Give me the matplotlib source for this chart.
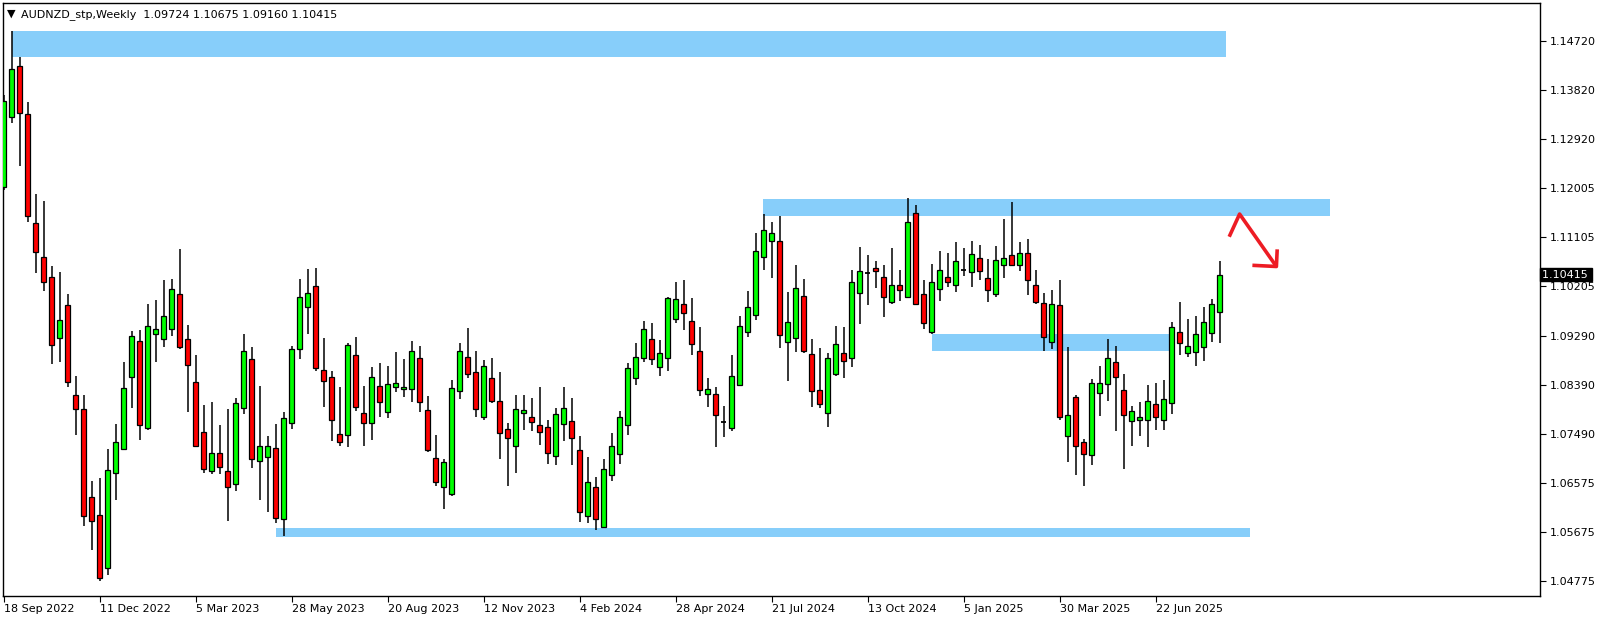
import matplotlib
matplotlib.use("Agg")
import matplotlib.pyplot as plt
import matplotlib.transforms as mtransforms
from matplotlib.patches import Rectangle

symbol = "AUDNZD_stp,Weekly"

# weekly AUDNZD candles (oldest first)
opens = [1.1203, 1.1332, 1.1426, 1.1337, 1.1136, 1.1074, 1.1037, 1.0925, 1.0986, 1.0820,
         1.0794, 1.0632, 1.0599, 1.0501, 1.0676, 1.0720, 1.0853, 1.0919, 1.0759, 1.0932,
         1.0923, 1.0941, 1.1006, 1.0923, 1.0844, 1.0752, 1.0681, 1.0713, 1.0681, 1.0656,
         1.0796, 1.0886, 1.0698, 1.0706, 1.0722, 1.0591, 1.0768, 1.0904, 1.0983, 1.1020,
         1.0867, 1.0854, 1.0748, 1.0746, 1.0893, 1.0787, 1.0768, 1.0836, 1.0789, 1.0835,
         1.0831, 1.0831, 1.0888, 1.0792, 1.0705, 1.0650, 1.0637, 1.0827, 1.0891, 1.0862,
         1.0780, 1.0852, 1.0810, 1.0757, 1.0726, 1.0787, 1.0780, 1.0764, 1.0761, 1.0707,
         1.0766, 1.0773, 1.0718, 1.0597, 1.0650, 1.0578, 1.0672, 1.0712, 1.0764, 1.0851,
         1.0888, 1.0923, 1.0871, 1.0888, 1.0960, 1.0987, 1.0956, 1.0902, 1.0822, 1.0822,
         1.0771, 1.0759, 1.0838, 1.0936, 1.0968, 1.1075, 1.1103, 1.1103, 1.0918, 1.0925,
         1.1002, 1.0895, 1.0829, 1.0787, 1.0858, 1.0897, 1.0889, 1.1008, 1.1044, 1.1054,
         1.1038, 1.0991, 1.1022, 1.1000, 1.1156, 1.1006, 1.0937, 1.1015, 1.1038, 1.1022,
         1.1051, 1.1046, 1.1072, 1.1035, 1.1006, 1.1059, 1.1077, 1.1059, 1.1081, 1.1022,
         1.0989, 1.0918, 1.0985, 1.0744, 1.0817, 1.0733, 1.0710, 1.0823, 1.0840, 1.0880,
         1.0829, 1.0773, 1.0775, 1.0775, 1.0803, 1.0775, 1.0805, 1.0937, 1.0897, 1.0900,
         1.0908, 1.0934, 1.09724]
highs = [1.1372, 1.1491, 1.1443, 1.1359, 1.1190, 1.1177, 1.1057, 1.1046, 1.1006, 1.0855,
         1.0820, 1.0662, 1.0668, 1.0721, 1.0767, 1.0881, 1.0938, 1.0940, 1.0988, 1.0995,
         1.1032, 1.1034, 1.1089, 1.0949, 1.0894, 1.0802, 1.0807, 1.0765, 1.0795, 1.0815,
         1.0933, 1.0908, 1.0837, 1.0745, 1.0767, 1.0789, 1.0910, 1.1034, 1.1052, 1.1054,
         1.0925, 1.0864, 1.0835, 1.0916, 1.0927, 1.0837, 1.0871, 1.0879, 1.0873, 1.0899,
         1.0887, 1.0919, 1.0910, 1.0818, 1.0746, 1.0702, 1.0848, 1.0915, 1.0944, 1.0901,
         1.0885, 1.0889, 1.0862, 1.0769, 1.0820, 1.0820, 1.0815, 1.0835, 1.0774, 1.0796,
         1.0835, 1.0815, 1.0745, 1.0706, 1.0669, 1.0702, 1.0750, 1.0791, 1.0879, 1.0916,
         1.0956, 1.0953, 1.0922, 1.1001, 1.1028, 1.1032, 1.0999, 1.0945, 1.0852, 1.0835,
         1.0800, 1.0894, 1.0965, 1.1012, 1.1119, 1.1153, 1.1138, 1.1150, 1.1010, 1.1059,
         1.1034, 1.0923, 1.0907, 1.0897, 1.0947, 1.0945, 1.1050, 1.1092, 1.1078, 1.1067,
         1.1059, 1.1091, 1.1050, 1.1182, 1.1170, 1.1032, 1.1061, 1.1085, 1.1082, 1.1102,
         1.1091, 1.1104, 1.1097, 1.1071, 1.1095, 1.1144, 1.1175, 1.1102, 1.1108, 1.1050,
         1.1008, 1.1014, 1.1032, 1.0908, 1.0820, 1.0740, 1.0850, 1.0873, 1.0923, 1.0910,
         1.0859, 1.0800, 1.0807, 1.0839, 1.0843, 1.0848, 1.0954, 1.0991, 1.0960, 1.0965,
         1.0983, 1.0997, 1.10675]
lows = [1.1198, 1.1320, 1.1241, 1.1138, 1.1044, 1.1012, 1.0878, 1.0881, 1.0834, 1.0747,
        1.0579, 1.0534, 1.0478, 1.0489, 1.0626, 1.0719, 1.0797, 1.0738, 1.0756, 1.0881,
        1.0908, 1.0929, 1.0904, 1.0788, 1.0725, 1.0676, 1.0674, 1.0674, 1.0589, 1.0643,
        1.0786, 1.0685, 1.0626, 1.0605, 1.0585, 1.0561, 1.0758, 1.0886, 1.0933, 1.0865,
        1.0798, 1.0735, 1.0726, 1.0725, 1.0791, 1.0726, 1.0738, 1.0780, 1.0777, 1.0825,
        1.0816, 1.0808, 1.0789, 1.0716, 1.0653, 1.0611, 1.0635, 1.0812, 1.0852, 1.0780,
        1.0775, 1.0806, 1.0703, 1.0653, 1.0676, 1.0755, 1.0753, 1.0729, 1.0694, 1.0692,
        1.0736, 1.0692, 1.0587, 1.0585, 1.0572, 1.0577, 1.0661, 1.0694, 1.0747, 1.0839,
        1.0881, 1.0876, 1.0856, 1.0865, 1.0952, 1.0939, 1.0893, 1.0819, 1.0798, 1.0725,
        1.0742, 1.0753, 1.0836, 1.0927, 1.0959, 1.1051, 1.1036, 1.0906, 1.0845, 1.0900,
        1.0898, 1.0798, 1.0797, 1.0762, 1.0856, 1.0851, 1.0871, 1.0950, 1.0985, 1.1018,
        1.0964, 1.0988, 1.0994, 1.0998, 1.0985, 1.0942, 1.0933, 1.0994, 1.1019, 1.1009,
        1.1040, 1.1019, 1.1032, 1.0992, 1.1001, 1.1036, 1.1057, 1.1049, 1.1005, 1.0987,
        1.0902, 1.0904, 1.0775, 1.0696, 1.0672, 1.0652, 1.0692, 1.0782, 1.0810, 1.0753,
        1.0683, 1.0726, 1.0745, 1.0725, 1.0756, 1.0756, 1.0786, 1.0894, 1.0891, 1.0874,
        1.0883, 1.0918, 1.09160]
closes = [1.1361, 1.1420, 1.1340, 1.1150, 1.1084, 1.1028, 1.0912, 1.0958, 1.0844, 1.0794,
          1.0597, 1.0589, 1.0483, 1.0682, 1.0733, 1.0833, 1.0929, 1.0764, 1.0947, 1.0942,
          1.0965, 1.1015, 1.0908, 1.0875, 1.0727, 1.0683, 1.0713, 1.0687, 1.0650, 1.0805,
          1.0902, 1.0702, 1.0727, 1.0727, 1.0593, 1.0777, 1.0904, 1.1000, 1.1008, 1.0869,
          1.0845, 1.0775, 1.0733, 1.0912, 1.0798, 1.0768, 1.0854, 1.0807, 1.0840, 1.0843,
          1.0834, 1.0902, 1.0807, 1.0718, 1.0660, 1.0696, 1.0833, 1.0902, 1.0858, 1.0794,
          1.0873, 1.0810, 1.0750, 1.0741, 1.0794, 1.0792, 1.0771, 1.0752, 1.0713, 1.0785,
          1.0796, 1.0741, 1.0604, 1.0660, 1.0591, 1.0683, 1.0726, 1.0780, 1.0869, 1.0890,
          1.0941, 1.0886, 1.0898, 1.0999, 1.0996, 1.0971, 1.0914, 1.0829, 1.0831, 1.0783,
          1.0771, 1.0855, 1.0948, 1.0982, 1.1086, 1.1123, 1.1118, 1.0930, 1.0954, 1.1017,
          1.0902, 1.0827, 1.0803, 1.0889, 1.0914, 1.0882, 1.1029, 1.1048, 1.1044, 1.1048,
          1.1000, 1.1022, 1.1013, 1.1138, 1.0987, 1.0952, 1.1029, 1.1050, 1.1029, 1.1066,
          1.1051, 1.1080, 1.1048, 1.1013, 1.1068, 1.1072, 1.1059, 1.1082, 1.1031, 1.0992,
          1.0927, 1.0987, 1.0779, 1.0783, 1.0727, 1.0712, 1.0842, 1.0843, 1.0888, 1.0853,
          1.0783, 1.0790, 1.0779, 1.0809, 1.0780, 1.0812, 1.0945, 1.0915, 1.0910, 1.0932,
          1.0954, 1.0987, 1.10415]

date_ticks = [0, 12, 24, 36, 48, 60, 72, 84, 96, 108, 120, 132, 144]
date_labels = ["18 Sep 2022", "11 Dec 2022", "5 Mar 2023", "28 May 2023", "20 Aug 2023",
               "12 Nov 2023", "4 Feb 2024", "28 Apr 2024", "21 Jul 2024", "13 Oct 2024",
               "5 Jan 2025", "30 Mar 2025", "22 Jun 2025"]
price_ticks = [1.14720, 1.13820, 1.12920, 1.12005, 1.11105, 1.10205,
               1.09290, 1.08390, 1.07490, 1.06575, 1.05675, 1.04775]

# supply / demand zones drawn on the chart (start bar, end bar, low, high)
zone_start = [1.1, 94.9, 116.0, 34.0]
zone_end = [152.75, 165.8, 146.0, 155.8]
zone_low = [1.14415, 1.11502, 1.09016, 1.05578]
zone_high = [1.14908, 1.11818, 1.09326, 1.05755]

# hand drawn red arrow (bar, price)
arrow_x = [153.2, 154.5, 159.1]
arrow_y = [1.11115, 1.11533, 1.10567]
head_x = [156.1, 159.1, 159.2]
head_y = [1.10589, 1.10567, 1.10883]

fig = plt.figure(figsize=(16.04, 6.22), dpi=100)
fig.patch.set_facecolor("white")
ax = fig.add_axes([3 / 1604, 1 - 596 / 622, 1537 / 1604, 593 / 622])
ax.set_xlim(-0.075, 192.05)
ax.set_ylim(1.04501, 1.15418)

for x0, x1, lo, hi in zip(zone_start, zone_end, zone_low, zone_high):
    ax.add_patch(Rectangle((x0, lo), x1 - x0, hi - lo, facecolor="#87CEFA",
                           edgecolor="none", zorder=0))

n = len(closes)
xs = list(range(n))
ax.vlines(xs, lows, highs, color="black", linewidth=1.1, zorder=2)
for i in xs:
    o, c = opens[i], closes[i]
    if c == o:
        ax.hlines(o, i - 0.32, i + 0.32, color="black", linewidth=1.3, zorder=3)
        continue
    col = "#00FF00" if c > o else "#FF0000"
    ax.bar(i, abs(c - o), bottom=min(o, c), width=0.62, color=col,
           edgecolor="black", linewidth=0.9, zorder=3)

ax.plot(arrow_x, arrow_y, color="#ED1C24", linewidth=2.6, solid_capstyle="butt", zorder=4)
ax.plot(head_x, head_y, color="#ED1C24", linewidth=2.6, solid_capstyle="butt", zorder=4)

for s in ax.spines.values():
    s.set_color("black")
    s.set_linewidth(1.0)

ax.yaxis.tick_right()
ax.set_yticks(price_ticks)
ax.set_yticklabels(["%.5f" % p for p in price_ticks])
ax.tick_params(axis="y", direction="out", length=4, width=0.8, pad=3,
               labelsize=8, colors="black")
ax.set_xticks(date_ticks)
ax.set_xticklabels(date_labels)
ax.tick_params(axis="x", direction="out", length=4, width=0.8, pad=2,
               labelsize=8, colors="black")
for lab in ax.get_xticklabels():
    lab.set_horizontalalignment("left")

# last price marker on the price scale
trans = mtransforms.blended_transform_factory(ax.transAxes, ax.transData)
ax.text(1.001, closes[-1], "1.10415 ", transform=trans, ha="left", va="center",
        fontsize=8, color="white", clip_on=False,
        bbox=dict(boxstyle="square,pad=0.15", facecolor="black", edgecolor="black"))

ax.text(0.0028, 0.991, "\u25bc", transform=ax.transAxes, fontsize=8, va="top", ha="left")
ax.text(0.0115, 0.990, "%s  %.5f %.5f %.5f %.5f" % (symbol, opens[-1], highs[-1], lows[-1], closes[-1]),
        transform=ax.transAxes, fontsize=8, va="top", ha="left")

fig.savefig("out.png", dpi=100)
